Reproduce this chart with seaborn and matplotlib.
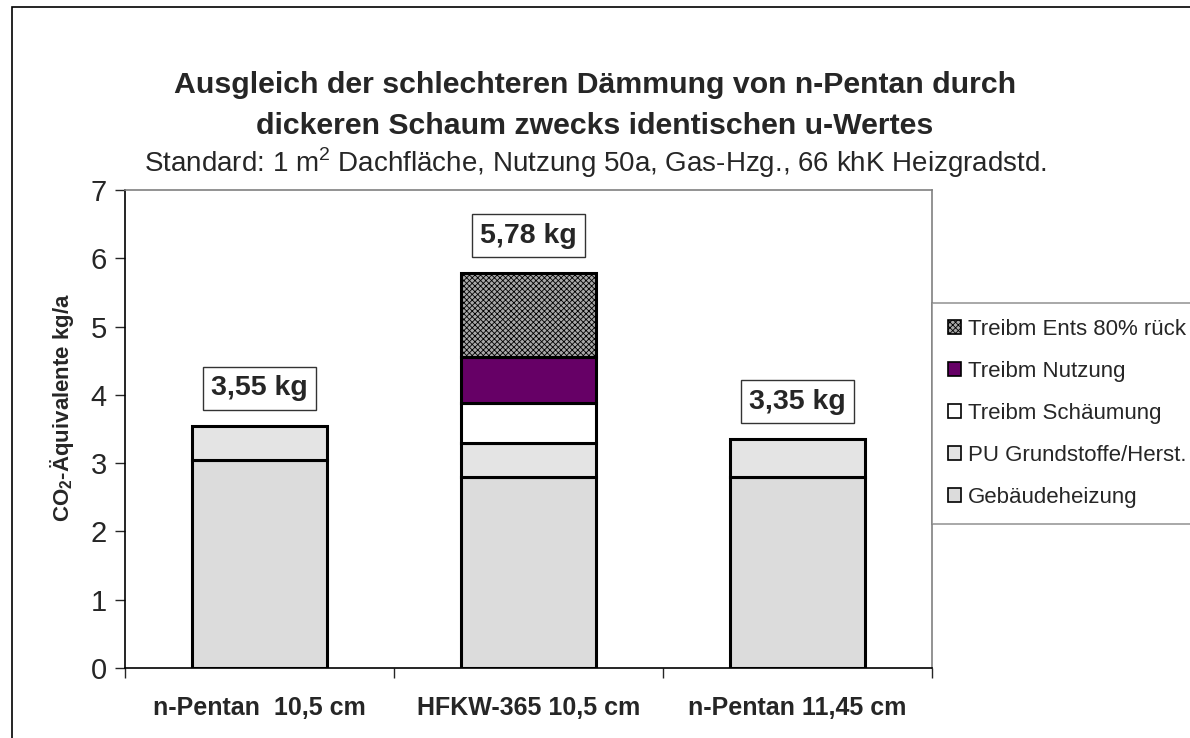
import matplotlib
matplotlib.use("Agg")
import matplotlib.pyplot as plt
import seaborn as sns
import numpy as np
from matplotlib.patches import Rectangle, Patch

categories = ["n-Pentan  10,5 cm", "HFKW-365 10,5 cm", "n-Pentan 11,45 cm"]
gebaeude = [3.05, 2.80, 2.80]
pu_grund = [0.50, 0.50, 0.55]
schaeumung = [0.00, 0.58, 0.00]
nutzung = [0.00, 0.67, 0.00]
ents = [0.00, 1.23, 0.00]
totals_labels = ["3,55 kg", "5,78 kg", "3,35 kg"]
series_names = ["Gebäudeheizung", "PU Grundstoffe/Herst.", "Treibm Schäumung",
                "Treibm Nutzung", "Treibm Ents 80% rück"]

sns.set_style("white")
plt.rcParams['font.family'] = ['Liberation Sans', 'DejaVu Sans']
plt.rcParams['mathtext.fontset'] = 'custom'
plt.rcParams['mathtext.rm'] = 'Liberation Sans'
plt.rcParams['mathtext.bf'] = 'Liberation Sans:bold'
plt.rcParams['hatch.linewidth'] = 0.6

fig = plt.figure(figsize=(11.9, 7.38), dpi=100, facecolor='white')
ax = fig.add_axes([125/1190, 1-668/738, (932-125)/1190, (668-190)/738])

layers = [gebaeude, pu_grund, schaeumung, nutzung, ents]
colors = ["#dcdcdc", "#e4e4e4", "#ffffff", "#660066", "#a8a8a8"]
hatches = [None, None, None, None, "xxxxxx"]
bottom = np.zeros(3)
handles = []
for vals, col, hat, name in zip(layers, colors, hatches, series_names):
    vals = np.array(vals)
    n_before = len(ax.patches)
    sns.barplot(x=categories, y=vals, bottom=bottom, color=col, saturation=1,
                edgecolor="black", linewidth=2.2, width=0.5, ax=ax)
    for p in ax.patches[n_before:]:
        if hat:
            p.set_hatch(hat)
        if p.get_height() == 0:
            p.set_visible(False)
    handles.append(Patch(facecolor=col, edgecolor='black', hatch=hat, linewidth=1.2, label=name))
    bottom = bottom + vals

if ax.get_legend() is not None:
    ax.get_legend().remove()

totals = bottom
for i, (t, lab) in enumerate(zip(totals, totals_labels)):
    ax.annotate(lab, xy=(i, t), xytext=(0, 27), textcoords='offset points',
                ha='center', va='center', fontsize=20.5, fontweight='bold',
                bbox=dict(boxstyle='square,pad=0.3', fc='white', ec='#333333', lw=1))

ax.set_ylim(0, 7)
ax.set_xlim(-0.5, 2.5)
ax.set_yticks(range(0, 8))
ax.tick_params(axis='y', labelsize=21, length=7, width=1, direction='out', left=True, pad=6)
ax.set_xticks([0, 1, 2])
ax.set_xticklabels(categories, fontsize=18, fontweight='bold')
ax.set_xticks([-0.5, 0.5, 1.5, 2.5], minor=True)
ax.tick_params(axis='x', which='major', length=0, pad=20)
ax.tick_params(axis='x', which='minor', length=7, width=1, direction='out', bottom=True)
ax.set_xlabel("")
ax.set_ylabel("CO$_\\mathbf{2}$-Äquivalente kg/a", fontsize=16, fontweight='bold')
ax.yaxis.set_label_coords(-0.061, 0.545)
for s in ['left', 'bottom']:
    ax.spines[s].set_color('black')
    ax.spines[s].set_linewidth(1.2)
for s in ['top', 'right']:
    ax.spines[s].set_color('#808080')
    ax.spines[s].set_linewidth(1.2)

h = handles[::-1]
leg = fig.legend(handles=h, loc='upper left', bbox_to_anchor=(932/1190, 1-303/738),
                 fontsize=16.0, frameon=True, fancybox=False, handlelength=0.6,
                 handleheight=0.6, handletextpad=0.3, labelspacing=0.95,
                 borderpad=0.7, borderaxespad=0)
leg.get_frame().set_edgecolor('#808080')
leg.get_frame().set_linewidth(1.2)

fig.text(0.5, 1-85/738, "Ausgleich der schlechteren Dämmung von n-Pentan durch",
         ha='center', va='center', fontsize=21.8, fontweight='bold')
fig.text(0.5, 1-126/738, "dickeren Schaum zwecks identischen u-Wertes",
         ha='center', va='center', fontsize=21.8, fontweight='bold')
fig.text(0.5, 1-163/738, "Standard: 1 m$^2$ Dachfläche, Nutzung 50a, Gas-Hzg., 66 khK Heizgradstd.",
         ha='center', va='center', fontsize=20)

fig.patches.append(Rectangle((12/1190, -0.05), 1.2, 1 - 7/738 + 0.05, transform=fig.transFigure,
                             fill=False, edgecolor='black', linewidth=1.2, zorder=0))

fig.savefig("out.png", dpi=100, facecolor='white')
